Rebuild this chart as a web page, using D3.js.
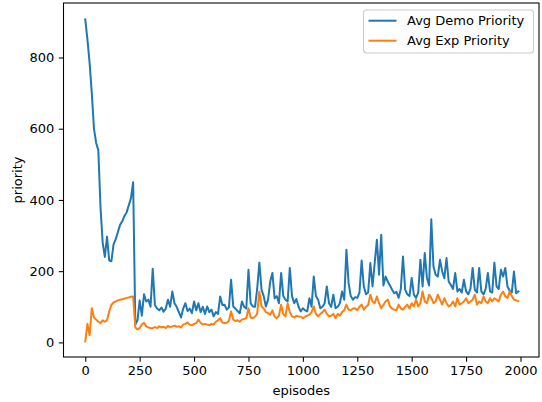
<!DOCTYPE html>
<html><head><meta charset="utf-8">
<script src="https://cdn.jsdelivr.net/npm/d3@7"></script>
<style>
html,body{margin:0;padding:0;background:#fff;}
svg{display:block;font-family:"DejaVu Sans",sans-serif;}
</style></head>
<body>
<svg id="chart" width="542" height="402"></svg>
<script>
const seriesNames = ["Avg Demo Priority", "Avg Exp Priority"];
const xTicks = [0, 250, 500, 750, 1000, 1250, 1500, 1750, 2000];
const yTicks = [0, 200, 400, 600, 800];
const episodes = d3.range(0, 2000, 10);
const demoPriority = [
907,850,785,700,600,560,540,380,280,240,
297,230,228,275,290,310,330,340,355,365,
385,405,450,50,62,118,75,135,115,120,
100,207,105,95,90,98,86,95,120,100,
143,110,100,85,70,95,110,88,95,82,
115,90,110,85,100,80,101,85,92,73,
85,80,129,105,106,92,98,176,101,95,
88,82,115,100,95,204,110,101,100,150,
224,148,130,101,120,171,195,124,130,110,
195,130,120,115,209,130,110,122,100,87,
96,90,87,124,100,185,130,120,96,100,
110,157,110,100,134,96,100,110,143,120,
260,167,130,120,127,125,140,230,157,135,
140,223,157,223,288,190,302,160,185,171,
160,148,138,142,125,150,241,148,135,130,
181,134,125,140,232,157,251,181,160,346,
213,190,185,232,200,180,237,171,161,150,
195,143,150,140,176,143,135,150,209,148,
140,209,143,135,150,195,143,140,224,157,
150,204,185,209,157,145,140,199,138,143
];
const expPriority = [
3,52,20,96,70,64,58,54,62,58,
62,87,105,112,115,118,120,121,123,125,
126,128,129,42,36,40,50,55,45,42,
40,40,43,40,45,42,44,40,46,43,
45,47,44,45,42,50,52,56,50,48,
52,54,64,55,50,52,50,48,52,50,
58,62,68,56,54,55,60,87,64,60,
62,58,64,66,68,96,70,68,72,80,
143,101,95,85,82,78,90,72,68,75,
106,80,73,110,85,73,70,75,73,72,
68,72,75,78,85,101,80,73,80,85,
92,80,73,75,80,68,80,75,85,90,
106,92,90,95,96,90,100,106,92,100,
105,134,115,110,129,110,96,105,115,120,
101,95,92,90,106,95,92,100,106,95,
110,101,120,101,110,143,115,110,134,125,
110,115,134,120,106,124,110,101,105,115,
101,124,106,110,115,124,110,115,120,134,
106,115,110,129,115,110,124,115,124,120,
115,134,143,129,125,143,130,120,118,116
];
const colors = ["#1f77b4", "#ff7f0e"];

const svg = d3.select("#chart");
const L = 63.5, R = 539, T = 3, B = 357;
const x = d3.scaleLinear().domain([-100, 2085]).range([L, R]);
const y = d3.scaleLinear().domain([-41, 953]).range([B, T]);

const series = [demoPriority, expPriority];
series.forEach((vals, i) => {
  const n = Math.min(vals.length, episodes.length);
  const pts = d3.range(n).map(k => [episodes[k], vals[k]]);
  svg.append("path")
    .datum(pts)
    .attr("fill", "none")
    .attr("stroke", colors[i])
    .attr("stroke-width", 2)
    .attr("stroke-linejoin", "round")
    .attr("stroke-linecap", "square")
    .attr("d", d3.line().x(d => x(d[0])).y(d => y(d[1])));
});

// frame
svg.append("rect").attr("x", L).attr("y", T).attr("width", R - L).attr("height", B - T)
  .attr("fill", "none").attr("stroke", "#000").attr("stroke-width", 1.07);

// axes
const xAxis = d3.axisBottom(x).tickValues(xTicks).tickSize(4.7).tickPadding(4.5).tickFormat(d3.format("d"));
const gx = svg.append("g").attr("transform", `translate(0,${B})`).call(xAxis);
const yAxis = d3.axisLeft(y).tickValues(yTicks).tickSize(4.7).tickPadding(4.5).tickFormat(d3.format("d"));
const gy = svg.append("g").attr("transform", `translate(${L},0)`).call(yAxis);
[gx, gy].forEach(g => {
  g.select(".domain").remove();
  g.selectAll("line").attr("stroke", "#000").attr("stroke-width", 1.07);
  g.selectAll("text").attr("font-family", "DejaVu Sans").attr("font-size", 13).attr("fill", "#000");
});

svg.append("text").attr("x", (L + R) / 2).attr("y", 395).attr("text-anchor", "middle")
  .attr("font-size", 13).text("episodes");
svg.append("text").attr("transform", `translate(22,${(T + B) / 2}) rotate(-90)`).attr("text-anchor", "middle")
  .attr("font-size", 13).text("priority");

// legend
const lg = svg.append("g");
lg.append("rect").attr("x", 363.5).attr("y", 10).attr("width", 170).attr("height", 43)
  .attr("rx", 3).attr("fill", "#fff").attr("fill-opacity", 0.8)
  .attr("stroke", "#cccccc").attr("stroke-width", 1.07);
seriesNames.forEach((name, i) => {
  const cy = 20.7 + i * 20;
  lg.append("line").attr("x1", 368.5).attr("x2", 396.5).attr("y1", cy).attr("y2", cy)
    .attr("stroke", colors[i]).attr("stroke-width", 2);
  lg.append("text").attr("x", 407).attr("y", cy + 4.7).attr("font-size", 13).text(name);
});
</script>
</body></html>
